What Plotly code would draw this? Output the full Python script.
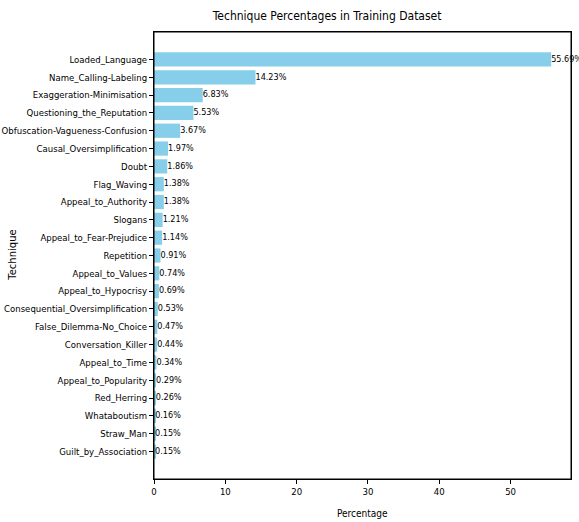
import plotly.graph_objects as go

techniques = [
    "Loaded_Language", "Name_Calling-Labeling", "Exaggeration-Minimisation",
    "Questioning_the_Reputation", "Obfuscation-Vagueness-Confusion",
    "Causal_Oversimplification", "Doubt", "Flag_Waving", "Appeal_to_Authority",
    "Slogans", "Appeal_to_Fear-Prejudice", "Repetition", "Appeal_to_Values",
    "Appeal_to_Hypocrisy", "Consequential_Oversimplification",
    "False_Dilemma-No_Choice", "Conversation_Killer", "Appeal_to_Time",
    "Appeal_to_Popularity", "Red_Herring", "Whataboutism", "Straw_Man",
    "Guilt_by_Association",
]
percentages = [
    55.69, 14.23, 6.83, 5.53, 3.67, 1.97, 1.86, 1.38, 1.38, 1.21, 1.14, 0.91,
    0.74, 0.69, 0.53, 0.47, 0.44, 0.34, 0.29, 0.26, 0.16, 0.15, 0.15,
]
labels = [f"{p:.2f}%" for p in percentages]

font = "DejaVu Sans Condensed, DejaVu Sans, sans-serif"

fig = go.Figure()
fig.add_trace(go.Bar(
    x=percentages, y=techniques, orientation="h",
    marker=dict(color="#87CEEB", line=dict(width=0)),
    hoverinfo="skip"))
# value labels placed at the bar ends, like ax.text(v, i, ...)
fig.add_trace(go.Scatter(
    x=percentages, y=techniques, mode="text", text=labels,
    textposition="middle right", cliponaxis=False,
    marker=dict(size=1),
    textfont=dict(family=font, size=9, color="black"),
    hoverinfo="skip"))

fig.update_layout(
    width=579, height=522,
    margin=dict(l=154, r=8, t=32, b=43),
    paper_bgcolor="white", plot_bgcolor="white",
    showlegend=False, bargap=0.2,
    font=dict(family=font, size=9.5, color="black"),
    title=dict(text="Technique Percentages in Training Dataset",
               xref="container", x=0.565, xanchor="center",
               y=0.969, yanchor="middle",
               font=dict(family=font, size=12)),
    annotations=[
        dict(text="Percentage", xref="paper", yref="paper",
             x=0.5, y=-0.078, xanchor="center", yanchor="middle",
             showarrow=False, font=dict(family=font, size=10)),
        dict(text="Technique", xref="paper", yref="paper",
             x=-0.34, y=0.5, xanchor="center", yanchor="middle",
             textangle=-90, showarrow=False,
             font=dict(family="DejaVu Sans, sans-serif", size=10)),
    ],
    # axes frame on all four sides
    shapes=[dict(type="rect", xref="paper", yref="paper",
                 x0=0, x1=1, y0=0, y1=1,
                 line=dict(color="black", width=1), layer="above")],
)
fig.update_xaxes(
    range=[0, 58.47], tickvals=[0, 10, 20, 30, 40, 50],
    showgrid=False, zeroline=False, automargin=False,
    showline=True, linecolor="black", linewidth=1, mirror=True,
    ticks="outside", ticklen=4, tickcolor="black")
fig.update_yaxes(
    autorange=False, range=[len(techniques) + 0.54, -1.54],
    type="category", showgrid=False, zeroline=False, automargin=False,
    showline=True, linecolor="black", linewidth=1, mirror=True,
    ticks="outside", ticklen=4, tickcolor="black")

# drop the page's default body margin so the figure sits at the window corner
fig.write_html(
    "out.html",
    config={"displayModeBar": False},
    post_script="document.body.style.margin='0';"
                "document.body.style.overflow='hidden';")
